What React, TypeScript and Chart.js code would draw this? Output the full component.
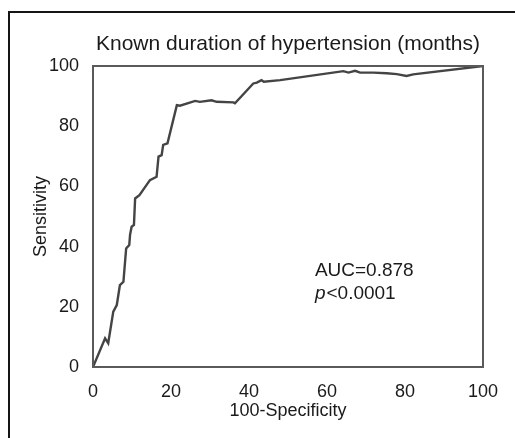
import React, { useEffect, useRef } from "react";
import { Chart, registerables } from "chart.js";

Chart.register(...registerables);

const fpr: number[] = [0, 3.1, 3.9, 5.2, 6.1, 6.9, 7.8, 8.5, 9.3, 9.5, 9.9, 10.5, 10.8, 11.9, 14.6, 16.3, 16.8, 17.6, 18.0, 19.1, 21.5, 22.3, 26.2, 27.4, 30.4, 31.7, 36.0, 36.4, 41.1, 42.0, 43.2, 43.8, 48.0, 64.2, 65.5, 67.2, 68.5, 71.9, 75.3, 77.9, 80.4, 82.1, 100];
const sensitivity: number[] = [0, 9.5, 7.9, 18.4, 20.6, 27.2, 28.3, 39.4, 40.5, 43.9, 46.6, 47.2, 56, 57.1, 62.1, 63.2, 69.9, 70.4, 73.8, 74.3, 87, 86.8, 88.4, 88.1, 88.6, 88.1, 87.9, 87.6, 94.2, 94.5, 95.3, 94.8, 95.3, 98.3, 97.8, 98.4, 97.8, 97.8, 97.6, 97.3, 96.7, 97.2, 100];
const tickValues: number[] = [0, 20, 40, 60, 80, 100];
const titleText = "Known duration of hypertension (months)";
const xTitle = "100-Specificity";
const yTitle = "Sensitivity";
const aucText = "AUC=0.878";
const pLabel = "p";
const pRest = "<0.0001";

const FONT = "Arial, 'Liberation Sans', sans-serif";

const decorPlugin = {
  id: "decor",
  beforeDraw(chart: any) {
    const ctx = chart.ctx;
    ctx.save();
    ctx.fillStyle = "#ffffff";
    ctx.fillRect(0, 0, chart.width, chart.height);
    ctx.fillStyle = "#151515";
    ctx.fillRect(8, 11, chart.width - 8, 2);
    ctx.fillRect(8, 11, 2, chart.height - 11);
    ctx.restore();
  },
  afterDraw(chart: any) {
    const ctx = chart.ctx;
    const a = chart.chartArea;
    const xs = chart.scales.x;
    const ys = chart.scales.y;
    ctx.save();
    ctx.strokeStyle = "#5a5a5a";
    ctx.lineWidth = 2;
    ctx.strokeRect(a.left, a.top, a.right - a.left, a.bottom - a.top);
    ctx.fillStyle = "#1a1a1a";
    ctx.textBaseline = "middle";
    ctx.textAlign = "left";
    const x0 = xs.getPixelForValue(56.9);
    ctx.font = `19px ${FONT}`;
    ctx.fillText(aucText, x0, ys.getPixelForValue(31.9));
    const yp = ys.getPixelForValue(24.3);
    ctx.font = `italic 19px ${FONT}`;
    ctx.fillText(pLabel, x0, yp);
    const w = ctx.measureText(pLabel).width;
    ctx.font = `19px ${FONT}`;
    ctx.fillText(pRest, x0 + w + 1, yp);
    ctx.restore();
  },
};

export default function App() {
  const ref = useRef<HTMLCanvasElement | null>(null);
  useEffect(() => {
    if (!ref.current) return;
    const chart = new Chart(ref.current, {
      type: "line",
      data: {
        datasets: [
          {
            data: fpr.map((x, i) => ({ x, y: sensitivity[i] })),
            borderColor: "#444444",
            borderWidth: 2.4,
            pointRadius: 0,
            tension: 0,
            fill: false,
          },
        ],
      },
      options: {
        responsive: false,
        animation: false,
        layout: { padding: { left: 0, right: 32, top: 0, bottom: 0 } },
        plugins: {
          legend: { display: false },
          tooltip: { enabled: false },
          title: {
            display: true,
            text: titleText,
            fullSize: false,
            color: "#1a1a1a",
            font: { size: 21, family: FONT, weight: "normal" },
            padding: { top: 31.4, bottom: 9.4 },
          },
        },
        scales: {
          x: {
            type: "linear",
            min: 0,
            max: 100,
            afterBuildTicks: (s: any) => {
              s.ticks = tickValues.map((v) => ({ value: v }));
            },
            afterFit: (s: any) => {
              s.height = 71;
            },
            grid: { display: false },
            border: { display: false },
            ticks: { color: "#1a1a1a", font: { size: 18, family: FONT }, padding: 6, maxRotation: 0 },
            title: {
              display: true,
              text: xTitle,
              color: "#1a1a1a",
              font: { size: 18, family: FONT },
              padding: { top: 0, bottom: 16 },
            },
          },
          y: {
            type: "linear",
            min: 0,
            max: 100,
            afterBuildTicks: (s: any) => {
              s.ticks = tickValues.map((v) => ({ value: v }));
            },
            afterFit: (s: any) => {
              s.width = 93;
            },
            grid: { display: false },
            border: { display: false },
            ticks: { color: "#1a1a1a", font: { size: 18, family: FONT }, padding: 6 },
            title: {
              display: true,
              text: yTitle,
              color: "#1a1a1a",
              font: { size: 18, family: FONT },
              padding: { top: 30, bottom: 0 },
            },
          },
        },
      },
      plugins: [decorPlugin],
    });
    return () => chart.destroy();
  }, []);
  return (
    <div style={{ position: "fixed", left: 0, top: 0, width: 515, height: 438, background: "#fff" }}>
      <canvas ref={ref} width={515} height={438} style={{ display: "block" }} />
    </div>
  );
}
